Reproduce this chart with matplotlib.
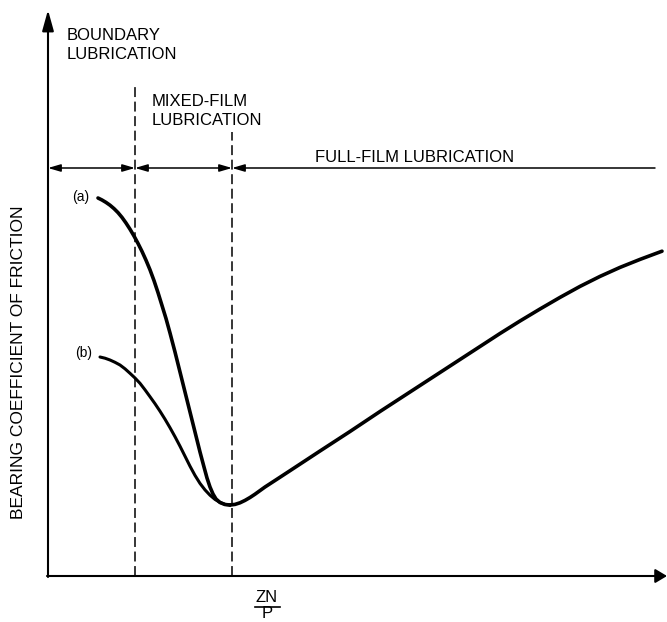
import matplotlib
matplotlib.use("Agg")
import matplotlib.pyplot as plt

# ---- data (x = Z N / P, y = coefficient of friction; arbitrary schematic units) ----
curve_a_x = [50, 54, 58, 62, 66, 70, 74, 78, 82, 86, 90, 94, 98, 102, 106, 110,
             114, 118, 122, 127, 132, 137, 142, 147, 152, 156, 159, 162, 165,
             168, 172, 177, 182]
curve_a_y = [378, 376, 373.6, 370.8, 367.4, 363.4, 358.6, 353, 346.8, 340, 332.6,
             324.6, 315.8, 306.2, 295.4, 283.4, 270.5, 257.5, 243, 224, 204, 184,
             164, 144, 124, 109, 98, 89, 82, 77, 73.5, 71.5, 71]

curve_b_x = [52, 57, 62, 67, 72, 77, 82, 87, 92, 97, 102, 107, 112, 117, 122,
             127, 132, 137, 142, 147, 152, 157, 162, 167, 172, 177, 182]
curve_b_y = [219, 217.8, 216, 213.7, 211, 207.2, 202.7, 198, 192.7, 186.2, 179.3,
             172.3, 164.8, 156.8, 148.3, 139.3, 129.8, 119.8, 109.8, 100.6, 92.6,
             86.1, 80.8, 76.6, 73.6, 71.6, 71]

full_film_x = [182, 187, 192, 197, 202, 207, 212, 217, 227, 242, 272, 302, 332,
               362, 392, 422, 452, 472, 492, 512, 532, 552, 572, 592, 614]
full_film_y = [71, 71.6, 73.2, 75.6, 78.5, 81.8, 85.4, 89, 95.5, 105.3, 125,
               144.5, 164.5, 184, 203.5, 223, 242.5, 255, 267, 278.6, 289.6,
               299.6, 308.6, 316.6, 324.8]

boundary_limits = [87, 184]          # boundary / mixed-film / full-film transitions
region_labels = ["BOUNDARY\nLUBRICATION", "MIXED-FILM\nLUBRICATION",
                 "FULL-FILM LUBRICATION"]
curve_labels = ["(a)", "(b)"]
y_label = "BEARING COEFFICIENT OF FRICTION"
x_label_num, x_label_den = "ZN", "P"

# ---- figure ----
FONT = ["Liberation Sans", "DejaVu Sans"]
plt.rcParams["font.family"] = FONT

fig = plt.figure(figsize=(6.67, 6.22), dpi=100)
ax = fig.add_axes([0, 0, 1, 1])
ax.set_xlim(-48, 619)
ax.set_ylim(-46, 576)
ax.axis("off")

# axes with arrows
ax.annotate("", xy=(0, 566), xytext=(0, -1),
            arrowprops=dict(arrowstyle="-|>,head_length=0.9,head_width=0.25",
                            lw=1.5, color="black", mutation_scale=14,
                            shrinkA=0, shrinkB=0))
ax.annotate("", xy=(619, 0), xytext=(-1, 0),
            arrowprops=dict(arrowstyle="-|>,head_length=0.5,head_width=0.3",
                            lw=1.5, color="black", mutation_scale=14,
                            shrinkA=0, shrinkB=0))

# regime bar
bar_y = 408
ap = dict(lw=1.1, color="black", mutation_scale=10, shrinkA=0, shrinkB=0)
ax.annotate("", xy=(0, bar_y), xytext=(boundary_limits[0], bar_y),
            arrowprops=dict(arrowstyle="<|-|>,head_length=0.75,head_width=0.22", **ap))
ax.annotate("", xy=(boundary_limits[0], bar_y), xytext=(boundary_limits[1], bar_y),
            arrowprops=dict(arrowstyle="<|-|>,head_length=0.75,head_width=0.22", **ap))
ax.annotate("", xy=(boundary_limits[1], bar_y), xytext=(607, bar_y),
            arrowprops=dict(arrowstyle="-|>,head_length=0.75,head_width=0.22", **ap))

# dashed region limits
ax.plot([boundary_limits[0]] * 2, [0, 489], color="black", lw=1.1,
        linestyle=(0, (6.5, 3)))
ax.plot([boundary_limits[1]] * 2, [0, 444], color="black", lw=1.1,
        linestyle=(0, (6.5, 3)))

# curves
ax.plot(curve_a_x, curve_a_y, color="black", lw=2.6, solid_capstyle="round",
        solid_joinstyle="round")
ax.plot(curve_b_x, curve_b_y, color="black", lw=2.2, solid_capstyle="round",
        solid_joinstyle="round")
ax.plot(full_film_x, full_film_y, color="black", lw=2.6, solid_capstyle="round",
        solid_joinstyle="round")

# text
fs = 12
ax.text(19, 531, region_labels[0], fontsize=fs, ha="left", va="center",
        linespacing=1.35)
ax.text(104, 465, region_labels[1], fontsize=fs, ha="left", va="center",
        linespacing=1.35)
ax.text(267, 419, region_labels[2], fontsize=fs, ha="left", va="center")

ax.text(33, 379, curve_labels[0], fontsize=10, ha="center", va="center")
ax.text(36, 223, curve_labels[1], fontsize=10, ha="center", va="center")

ax.text(-29, 214, y_label, fontsize=12.5, rotation=90, ha="center", va="center")

ax.text(219, -21, x_label_num, fontsize=12, ha="center", va="center")
ax.plot([207, 232], [-31, -31], color="black", lw=1.2)
ax.text(219, -45.5, x_label_den, fontsize=12, ha="center", va="bottom")

fig.savefig("out.png", dpi=100)
